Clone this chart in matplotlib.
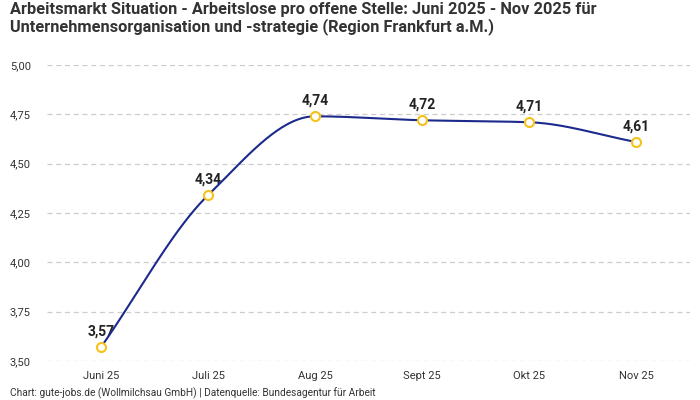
import numpy as np
import matplotlib
matplotlib.use("Agg")
from matplotlib import pyplot as plt

plt.rcParams['font.family'] = ['Roboto', 'DejaVu Sans']

monate = ["Juni 25", "Juli 25", "Aug 25", "Sept 25", "Okt 25", "Nov 25"]
werte = [3.57, 4.34, 4.74, 4.72, 4.71, 4.61]
y_ticks = [3.50, 3.75, 4.00, 4.25, 4.50, 4.75, 5.00]

titel = ("Arbeitsmarkt Situation - Arbeitslose pro offene Stelle: Juni 2025 - Nov 2025 für\n"
         "Unternehmensorganisation und -strategie (Region Frankfurt a.M.)")
quelle = "Chart: gute-jobs.de (Wollmilchsau GmbH) | Datenquelle: Bundesagentur für Arbeit"


def monotone_kurve(x, y, n=40):
    # monotone cubic (Fritsch-Carlson) for the smooth line
    x = np.asarray(x, float)
    y = np.asarray(y, float)
    h = np.diff(x)
    d = np.diff(y) / h
    m = np.zeros_like(y)
    m[0], m[-1] = d[0], d[-1]
    for i in range(1, len(y) - 1):
        if d[i - 1] * d[i] <= 0:
            m[i] = 0
        else:
            w1 = 2 * h[i] + h[i - 1]
            w2 = h[i] + 2 * h[i - 1]
            m[i] = (w1 + w2) / (w1 / d[i - 1] + w2 / d[i])
    xs, ys = [], []
    for i in range(len(x) - 1):
        t = np.linspace(0, 1, n)
        h00 = 2 * t**3 - 3 * t**2 + 1
        h10 = t**3 - 2 * t**2 + t
        h01 = -2 * t**3 + 3 * t**2
        h11 = t**3 - t**2
        xs.append(x[i] + t * h[i])
        ys.append(h00 * y[i] + h10 * h[i] * m[i] + h01 * y[i + 1] + h11 * h[i] * m[i + 1])
    return np.concatenate(xs), np.concatenate(ys)


pos = np.arange(len(monate))
fig = plt.figure(figsize=(7, 4), dpi=100)
ax = fig.add_axes([47.5 / 700, 39 / 400, 642 / 700, 296 / 400])

for i, v in enumerate(werte):
    ax.text(pos[i], v + 0.045, f"{v:.2f}".replace(".", ","), ha="center", va="bottom",
            fontsize=10, fontweight="bold", color="#222222", zorder=2)

kx, ky = monotone_kurve(pos, werte)
ax.plot(kx, ky, color="#1b2a8c", lw=1.5, zorder=3)
ax.plot(pos, werte, ls="none", marker="o", ms=6.5, mfc="white", mec="#f5c21b", mew=1.5, zorder=4)

ax.set_xlim(-0.5, len(monate) - 0.5)
ax.set_ylim(3.5, 5.0)
ax.set_xticks(pos)
ax.set_xticklabels(monate)
ax.set_yticks(y_ticks)
ax.set_yticklabels([f"{t:.2f}".replace(".", ",") for t in y_ticks])
ax.tick_params(length=0, labelsize=8, colors="#333333")
ax.tick_params(axis="x", pad=7)
ax.tick_params(axis="y", pad=27)
for lab in ax.get_yticklabels():
    lab.set_horizontalalignment("left")
ax.grid(axis="y", ls=(0, (4, 3)), color="#cccccc", lw=0.9)
ax.set_axisbelow(True)
for s in ax.spines.values():
    s.set_visible(False)

fig.text(10 / 700, 1 - 2 / 400, titel, ha="left", va="top", fontsize=11.8,
         fontweight="bold", color="#333333", linespacing=1.1)
fig.text(10 / 700, 1 - 393 / 400, quelle, ha="left", va="center", fontsize=7.3, color="#333333")

fig.savefig("out.png", dpi=100)
